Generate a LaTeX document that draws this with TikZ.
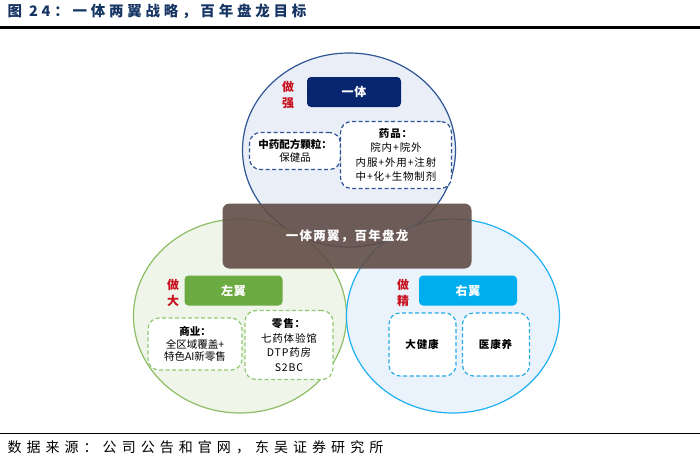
\documentclass[tikz,border=0pt]{standalone}
\usepackage{fontspec}
\setmainfont{Noto Sans CJK SC}
\usetikzlibrary{positioning,shapes.geometric}

\definecolor{titleblue}{RGB}{23,54,100}
\definecolor{topline}{RGB}{47,85,151}
\definecolor{topfill}{RGB}{234,239,247}
\definecolor{navy}{RGB}{8,38,112}
\definecolor{leftline}{RGB}{140,190,100}
\definecolor{leftfill}{RGB}{239,245,233}
\definecolor{leftbox}{RGB}{108,170,66}
\definecolor{leftdash}{RGB}{145,200,115}
\definecolor{rightline}{RGB}{30,176,240}
\definecolor{rightfill}{RGB}{234,243,251}
\definecolor{rightbox}{RGB}{0,174,239}
\definecolor{rightdash}{RGB}{40,170,230}
\definecolor{core}{RGB}{96,76,70}
\definecolor{dutyred}{RGB}{200,16,30}

\begin{document}
\begin{tikzpicture}[x=1pt,y=-1pt,
  wing/.style={ellipse,draw,line width=1.2pt,minimum width=213pt,minimum height=194pt,inner sep=0pt},
  tag/.style={rounded corners=4pt,minimum width=98pt,minimum height=30pt,text=white,inner sep=0pt,
    font=\fontsize{12}{14}\selectfont\bfseries\addfontfeatures{LetterSpace=8}},
  item/.style={draw,dash pattern=on 4pt off 2.5pt,line width=1.2pt,rounded corners=11pt,fill=white,
    align=center,inner sep=0pt,font=\fontsize{10.5}{14.5}\selectfont\addfontfeatures{LetterSpace=8}},
  duty/.style={text=dutyred,align=center,inner sep=0pt,font=\fontsize{12}{16.5}\selectfont\bfseries}
]
  \useasboundingbox (0,0) rectangle (700,463);
  % title and rules
  \node[anchor=west,text=titleblue,font=\fontsize{14.5}{16}\selectfont\bfseries\addfontfeatures{LetterSpace=26}] (title) at (4,11) {图 24：一体两翼战略，百年盘龙目标};
  \draw[line width=2.5pt] (0,27.5) -- (700,27.5);
  \draw[line width=1.8pt] (0,433.5) -- (700,433.5);
  \node[anchor=west,font=\fontsize{14}{16}\selectfont\addfontfeatures{LetterSpace=36}] (source) at (4,447) {数据来源：公司公告和官网，东吴证券研究所};

  % three circles
  \node[wing,draw=topline,fill=topfill] (yiti) at (349,150) {};
  \node[wing,draw=leftline,fill=leftfill] (zuo) at (240,316) {};
  \node[wing,draw=rightline,fill=rightfill] (you) at (453,316) {};
  \node[fill=core,fill opacity=0.9,text opacity=1,rounded corners=7pt,minimum width=249pt,minimum height=65pt,
    inner sep=0pt,text=white,font=\fontsize{12.5}{14}\selectfont\bfseries\addfontfeatures{LetterSpace=10}] (core) at (347,236) {一体两翼，百年盘龙};

  % top: yiti
  \node[tag,fill=navy,minimum width=94pt] (yitiTag) at (354,92) {一体};
  \node[duty] (qiang) at (288,95) {做\\强};
  \node[item,draw=topline,minimum width=91pt,minimum height=37pt,font=\fontsize{10.5}{13}\selectfont] (peifang) at (295,151) {\textbf{中药配方颗粒：}\\保健品};
  \node[item,draw=topline,minimum width=111pt,minimum height=67pt] (yaopin) at (396,155) {\textbf{药品：}\\院内+院外\\内服+外用+注射\\中+化+生物制剂};

  % left wing
  \node[tag,fill=leftbox] (zuoTag) at (233.5,290.5) {左翼};
  \node[duty] (da) at (173,293) {做\\大};
  \node[item,draw=leftdash,minimum width=94pt,minimum height=52pt,font=\fontsize{10.5}{12.5}\selectfont] (shangye) at (195,344) {\textbf{商业：}\\全区域覆盖+\\特色AI新零售};
  \node[item,draw=leftdash,minimum width=88pt,minimum height=69pt] (lingshou) at (289,345) {\textbf{零售：}\\七药体验馆\\DTP药房\\S2BC};

  % right wing
  \node[tag,fill=rightbox] (youTag) at (468,290.5) {右翼};
  \node[duty] (jing) at (403,293) {做\\精};
  \node[item,draw=rightdash,minimum width=67pt,minimum height=63pt] (jiankang) at (422.5,344.5) {\textbf{大健康}};
  \node[item,draw=rightdash,minimum width=67pt,minimum height=63pt] (kangyang) at (496,344.5) {\textbf{医康养}};
\end{tikzpicture}
\end{document}
